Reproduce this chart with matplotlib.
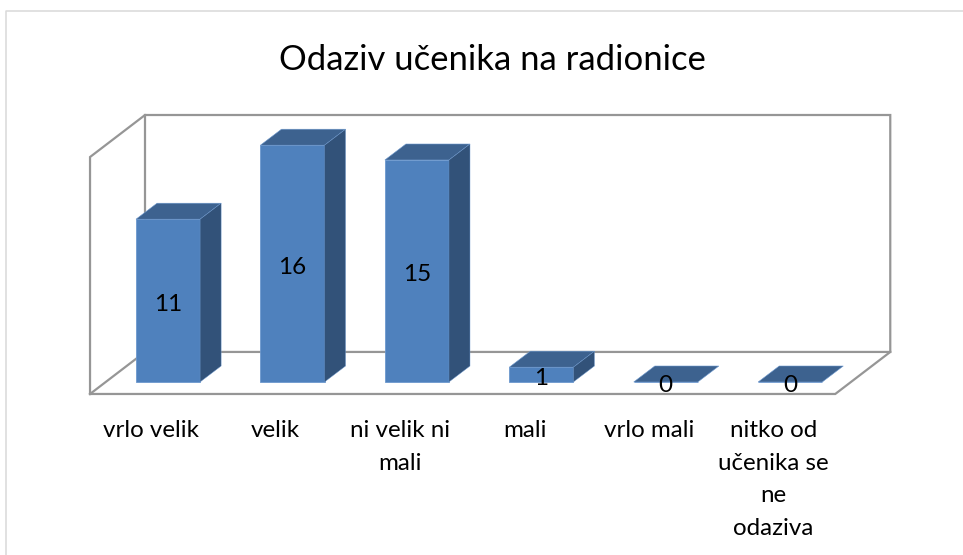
import numpy as np
import matplotlib
matplotlib.use("Agg")
import matplotlib.pyplot as plt
from matplotlib.lines import Line2D
from matplotlib.patches import Polygon

plt.rcParams["font.family"] = ["Lato", "DejaVu Sans"]

# ── data ───────────────────────────────────────────────────────────────────────

CATEGORIES = ["vrlo velik", "velik", "ni velik ni\nmali", "mali", "vrlo mali",
              "nitko od\nučenika se\nne\nodaziva"]
VALUES     = [11, 16, 15, 1, 0, 0]
TITLE      = "Odaziv učenika na radionice"

# ── 3d look, in data units ─────────────────────────────────────────────────────

BAR_W    = 0.515
BAR_DX   = 0.169     # depth of a bar
BAR_DY   = 1.08
WALL_DX  = 0.442     # depth of the floor
WALL_DY  = 2.84
X_LEFT   = -0.627
X_RIGHT  = 5.362
FLOOR_Y  = -0.81
WALL_TOP = 15.2
LABEL_DX = -0.135

FRONT = "#4F81BD"
SIDE  = "#325279"
TOP   = "#3D628F"
EDGE  = "#6C98CE"
WALL  = "#969696"

fig = plt.figure(figsize=(9.63, 5.55), dpi=100)
ax = fig.add_axes([0, 0, 1, 1])
ax.set_xlim(-1.3505, 6.3885)
ax.set_ylim(-11.69, 25.81)
ax.patch.set_visible(False)
for name, spine in ax.spines.items():
    spine.set_visible(False)
ax.spines["bottom"].set_position(("data", FLOOR_Y))
ax.yaxis.set_visible(False)

x = np.arange(len(VALUES))

# ── walls and floor ────────────────────────────────────────────────────────────

back_l, back_r = X_LEFT + WALL_DX, X_RIGHT + WALL_DX
back_b, back_t = FLOOR_Y + WALL_DY, WALL_TOP + WALL_DY
line_kw = dict(color=WALL, lw=1.6, solid_joinstyle="miter", zorder=1)
ax.plot([X_LEFT, X_LEFT, back_l, back_r, back_r, X_RIGHT, X_LEFT],
        [FLOOR_Y, WALL_TOP, back_t, back_t, back_b, FLOOR_Y, FLOOR_Y], **line_kw)
ax.plot([X_LEFT, back_l, back_r], [FLOOR_Y, back_b, back_b], **line_kw)
ax.plot([back_l, back_l], [back_t, back_b], **line_kw)

# ── bars ───────────────────────────────────────────────────────────────────────

ax.bar(x, VALUES, width=BAR_W, color=FRONT, edgecolor=EDGE, linewidth=0.6, zorder=3)
for xi, v in zip(x, VALUES):
    l, r = xi - BAR_W / 2, xi + BAR_W / 2
    ax.add_patch(Polygon([[l, v], [r, v], [r + BAR_DX, v + BAR_DY], [l + BAR_DX, v + BAR_DY]],
                         facecolor=TOP, edgecolor=EDGE, linewidth=0.4, zorder=3))
    if v > 0:
        ax.add_patch(Polygon([[r, 0], [r + BAR_DX, BAR_DY], [r + BAR_DX, v + BAR_DY], [r, v]],
                             facecolor=SIDE, edgecolor=EDGE, linewidth=0.3, zorder=3))
    ax.text(xi, v / 2 - 0.25, str(v), ha="center", va="center",
            fontsize=17.5, color="black", zorder=4)

# ── text ───────────────────────────────────────────────────────────────────────

ax.set_xticks(x + LABEL_DX)
ax.set_xticklabels(CATEGORIES, fontsize=17.4, color="black", linespacing=1.67)
ax.tick_params(axis="x", length=0, pad=19)
ax.set_title(TITLE, fontsize=24.9, color="black", x=0.511, y=0.874, pad=0)

# chart area border, only left and top show in the crop
fig.add_artist(Line2D([0.0065, 0.0065, 1], [0, 0.98, 0.98], color="#D9D9D9", lw=1.1))

fig.savefig("out.png", dpi=100, facecolor="white")
